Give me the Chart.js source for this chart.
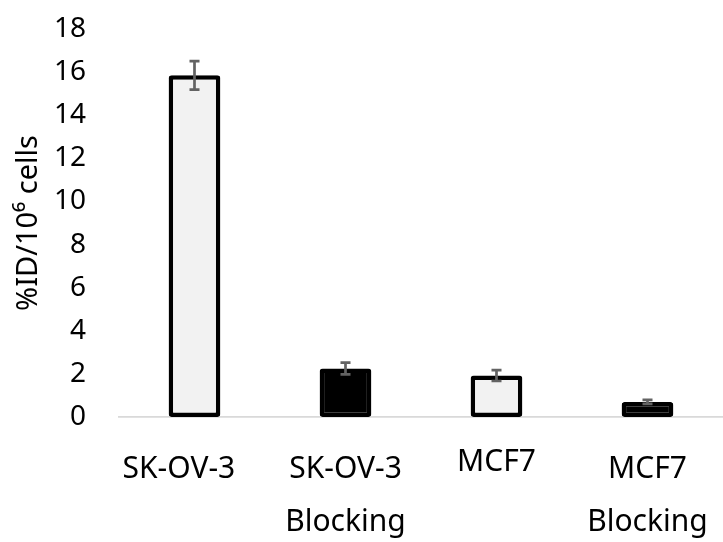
<!DOCTYPE html>
<html>

<head>
    <meta charset="utf-8">
    <title>chart</title>
    <script src="https://cdn.jsdelivr.net/npm/chart.js"></script>
    <style>
        body { margin: 0; background: #fff; }
    </style>
</head>

<body>
    <canvas id="myChart" width="723" height="542"></canvas>
    <script>
    // 資料
    var labels = [['SK-OV-3    '], ['SK-OV-3', 'Blocking'], ['MCF7'], ['MCF7', 'Blocking']];
    var values = [15.85, 2.25, 1.92, 0.7];
    var errors = [0.66, 0.27, 0.25, 0.09];
    var fills = ['#f2f2f2', '#000000', '#f2f2f2', '#000000'];
    var yTicks = [0, 2, 4, 6, 8, 10, 12, 14, 16, 18];

    // 誤差線
    var errorBars = {
        id: 'errorBars',
        afterDatasetsDraw: function (chart) {
            var ctx = chart.ctx;
            var y = chart.scales.y;
            var meta = chart.getDatasetMeta(0);
            ctx.save();
            ctx.strokeStyle = '#636363';
            ctx.lineWidth = 2.7;
            meta.data.forEach(function (bar, i) {
                var top = y.getPixelForValue(values[i] + errors[i]);
                var bottom = y.getPixelForValue(values[i] - errors[i]);
                ctx.beginPath();
                ctx.moveTo(bar.x, top);
                ctx.lineTo(bar.x, bottom);
                ctx.moveTo(bar.x - 5, top);
                ctx.lineTo(bar.x + 5, top);
                ctx.moveTo(bar.x - 5, bottom);
                ctx.lineTo(bar.x + 5, bottom);
                ctx.stroke();
            });
            ctx.restore();
        }
    };

    // 不讓刻度文字撐開繪圖區
    function noPadding(scale) {
        scale.paddingTop = 0;
        scale.paddingBottom = 0;
        scale.paddingLeft = 0;
        scale.paddingRight = 0;
    }

    var ctx = document.getElementById('myChart').getContext('2d');
    var myChart = new Chart(ctx, {
        type: 'bar',
        data: {
            labels: labels,
            datasets: [{
                data: values,
                backgroundColor: fills,
                borderColor: '#000000',
                borderWidth: 4.5,
                borderRadius: 3,
                borderSkipped: false,
                barPercentage: 0.685,
                categoryPercentage: 0.5
            }]
        },
        options: {
            responsive: false,
            animation: false,
            layout: { padding: { top: 29, right: -4, left: 0, bottom: 0 } },
            plugins: {
                legend: { display: false },
                tooltip: { enabled: false }
            },
            scales: {
                x: {
                    grid: { display: false, drawTicks: false },
                    border: { display: true, color: '#d9d9d9', width: 1.7 },
                    ticks: {
                        color: '#000',
                        padding: 26,
                        maxRotation: 0,
                        autoSkip: false,
                        font: function (c) {
                            return {
                                family: 'Noto Sans',
                                size: 30,
                                lineHeight: c.index === 2 ? '39px' : '53px'
                            };
                        }
                    },
                    afterFit: function (scale) {
                        scale.height = 125;
                        noPadding(scale);
                    }
                },
                y: {
                    min: 0,
                    max: 18,
                    afterBuildTicks: function (scale) {
                        scale.ticks = yTicks.map(function (v) { return { value: v }; });
                    },
                    grid: { display: false, drawTicks: false },
                    border: { display: false },
                    ticks: {
                        color: '#000',
                        padding: 33,
                        font: { family: 'Noto Sans', size: 28 }
                    },
                    title: {
                        display: true,
                        text: '%ID/10⁶ cells',
                        color: '#000',
                        padding: { top: 11, bottom: 4 },
                        font: { family: 'Noto Sans', size: 29 }
                    },
                    afterFit: function (scale) {
                        scale.width = 119;
                        noPadding(scale);
                    }
                }
            }
        },
        plugins: [errorBars]
    });
    </script>
</body>

</html>
